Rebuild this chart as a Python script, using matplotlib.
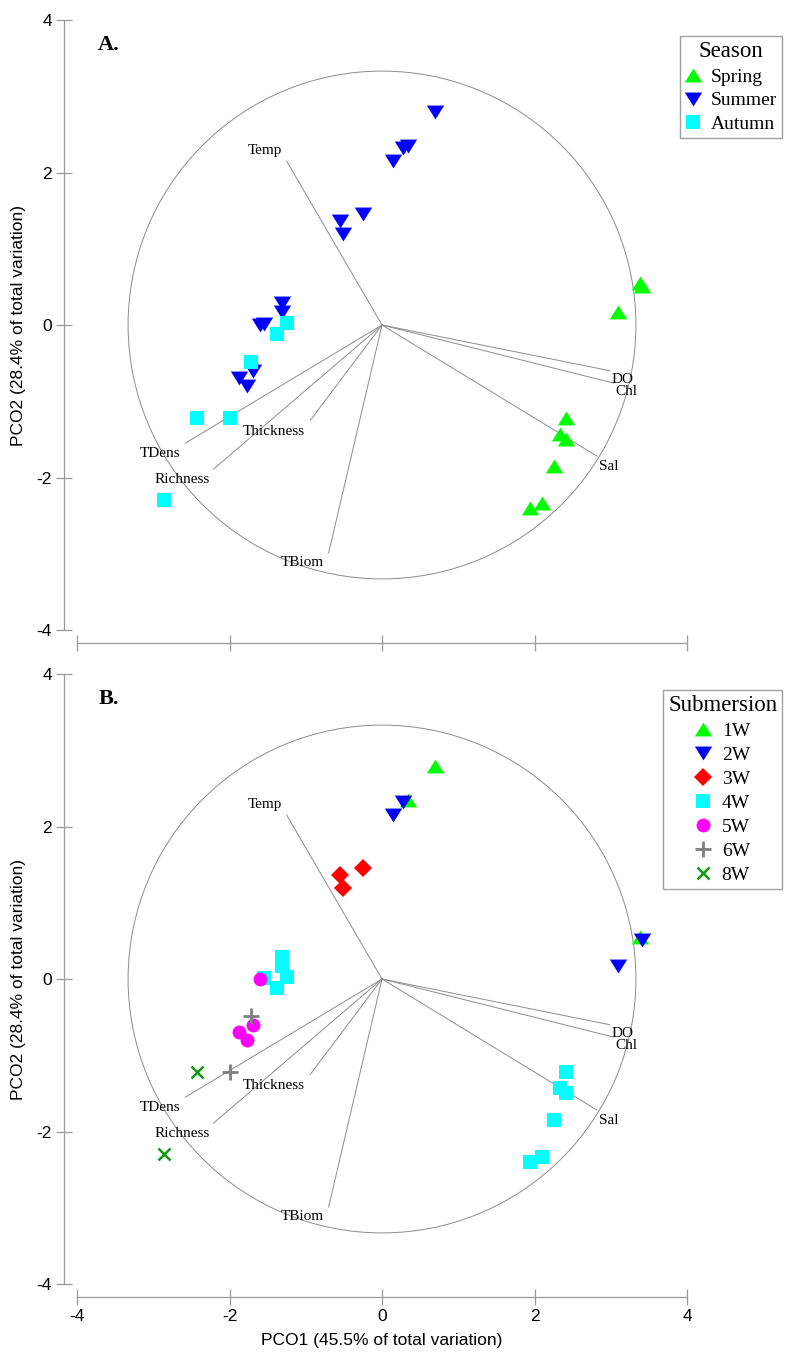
import matplotlib
matplotlib.use("Agg")
from matplotlib import pyplot as plt
from matplotlib.patches import Circle

# sample scores on the first two PCO axes
pco1 = [0.69, 0.34, 0.28, 0.14, -0.55, -0.51, -0.25, -1.31, -1.31, -1.55,
        -1.60, -1.69, -1.88, -1.77, -1.25, -1.38, -1.72, -2.00, -2.43, -2.86,
        3.39, 3.41, 3.10, 2.41, 2.34, 2.41, 2.26, 2.10, 1.94]
pco2 = [2.79, 2.35, 2.32, 2.15, 1.36, 1.19, 1.46, 0.29, 0.17, 0.01,
        0.00, -0.60, -0.70, -0.80, 0.03, -0.12, -0.48, -1.22, -1.22, -2.30,
        0.55, 0.51, 0.17, -1.22, -1.43, -1.50, -1.85, -2.33, -2.40]
season = ["Summer"] * 14 + ["Autumn"] * 6 + ["Spring"] * 9
submersion = ["1W", "1W", "2W", "2W", "3W", "3W", "3W", "4W", "4W", "4W",
              "5W", "5W", "5W", "5W", "4W", "4W", "6W", "6W", "8W", "8W",
              "1W", "2W", "2W", "4W", "4W", "4W", "4W", "4W", "4W"]

# environmental vectors
vec_names = ["Temp", "DO", "Chl", "Sal", "TBiom", "Thickness", "Richness", "TDens"]
vec_x = [-1.25, 2.99, 3.03, 2.82, -0.70, -0.94, -2.21, -2.58]
vec_y = [2.15, -0.60, -0.76, -1.72, -2.99, -1.25, -1.89, -1.55]

season_groups = ["Spring", "Summer", "Autumn"]
submersion_groups = ["1W", "2W", "3W", "4W", "5W", "6W", "8W"]
ticks = [-4, -2, 0, 2, 4]
circle_r = 3.33

# label offsets from the vector tips (data units)
label_off = [(-0.28, 0.14), (0.16, -0.11), (0.17, -0.11), (0.16, -0.13),
             (-0.34, -0.12), (-0.48, -0.15), (-0.41, -0.13), (-0.33, -0.13)]

TRI_UP = [(-1, -0.8), (1, -0.8), (0, 0.8), (-1, -0.8)]
TRI_DOWN = [(-1, 0.8), (1, 0.8), (0, -0.8), (-1, 0.8)]

styles = {
    "Spring": dict(marker=TRI_UP, color="#00ff00", ms=12.5),
    "Summer": dict(marker=TRI_DOWN, color="#0000ff", ms=12.5),
    "Autumn": dict(marker="s", color="#00ffff", ms=10),
    "1W": dict(marker=TRI_UP, color="#00ff00", ms=12.5),
    "2W": dict(marker=TRI_DOWN, color="#0000ff", ms=12.5),
    "3W": dict(marker="D", color="#ff0000", ms=9),
    "4W": dict(marker="s", color="#00ffff", ms=10),
    "5W": dict(marker="o", color="#ff00ff", ms=10),
    "6W": dict(marker="+", color="#808080", ms=11.5, mew=2.0),
    "8W": dict(marker="x", color="#109a10", ms=9, mew=1.8),
}

SERIF = "Liberation Serif"
plt.rcParams["font.family"] = ["Liberation Sans", "DejaVu Sans"]
plt.rcParams["axes.unicode_minus"] = False
GREY = "#9a9a9a"


def draw_panel(ax, labels, groups, title, letter, show_x, spacing):
    ax.add_patch(Circle((0, 0), circle_r, fill=False, ec="#8c8c8c", lw=0.7))
    for name, vx, vy, (dx, dy) in zip(vec_names, vec_x, vec_y, label_off):
        ax.plot([0, vx], [0, vy], color="#8c8c8c", lw=0.7)
        ax.text(vx + dx, vy + dy, name, family=SERIF, fontsize=11,
                ha="center", va="center")

    for g in groups:
        st = styles[g]
        xs = [x for x, l in zip(pco1, labels) if l == g]
        ys = [y for y, l in zip(pco2, labels) if l == g]
        filled = st["marker"] not in ("+", "x")
        ax.plot(xs, ys, ls="none", marker=st["marker"], ms=st["ms"],
                mfc=st["color"] if filled else "none", mec=st["color"],
                mew=st.get("mew", 0.0), label=g)

    leg = ax.legend(title=title, loc="upper right", bbox_to_anchor=(1.156, 0.974),
                    borderaxespad=0, prop={"family": SERIF, "size": 14},
                    title_fontproperties={"family": SERIF, "size": 16.5},
                    fancybox=False, edgecolor="#a0a0a0", framealpha=1,
                    labelspacing=spacing, handlelength=0.8, handletextpad=0.55,
                    borderpad=0.25)
    leg.get_frame().set_linewidth(1.0)

    ax.text(-3.58, 3.67, letter, family=SERIF, fontsize=16, fontweight="bold",
            ha="center", va="center")

    ax.set_xlim(-4, 4)
    ax.set_ylim(-4, 4)
    ax.set_xticks(ticks)
    ax.set_yticks(ticks)
    for s in ["top", "right"]:
        ax.spines[s].set_visible(False)
    for s in ["left", "bottom"]:
        ax.spines[s].set_position(("outward", 9.4))
        ax.spines[s].set_bounds(-4, 4)
        ax.spines[s].set_color(GREY)
        ax.spines[s].set_linewidth(0.9)
    ax.tick_params(direction="inout", length=11.5, width=0.9, color=GREY,
                   labelsize=12.5, pad=3)
    ax.set_ylabel("PCO2 (28.4% of total variation)", fontsize=12.5)
    ax.yaxis.set_label_coords(-0.0967, 0.5)
    ax.yaxis.label.set_va("center")
    if show_x:
        ax.set_xlabel("PCO1 (45.5% of total variation)", fontsize=12.5)
        ax.xaxis.set_label_coords(0.5, -0.092)
        ax.xaxis.label.set_va("center")
    else:
        ax.set_xticklabels([])


fig = plt.figure(figsize=(7.92, 13.62), dpi=100)
ax1 = fig.add_axes([77 / 792, (1362 - 630) / 1362, 610 / 792, 610 / 1362])
ax2 = fig.add_axes([77 / 792, (1362 - 1284) / 1362, 610 / 792, 610 / 1362])
ax1.patch.set_alpha(0)
ax2.patch.set_alpha(0)

draw_panel(ax1, season, season_groups, "Season", "A.", False, 0.32)
draw_panel(ax2, submersion, submersion_groups, "Submersion", "B.", True, 0.33)

fig.savefig("out.png", dpi=100)
